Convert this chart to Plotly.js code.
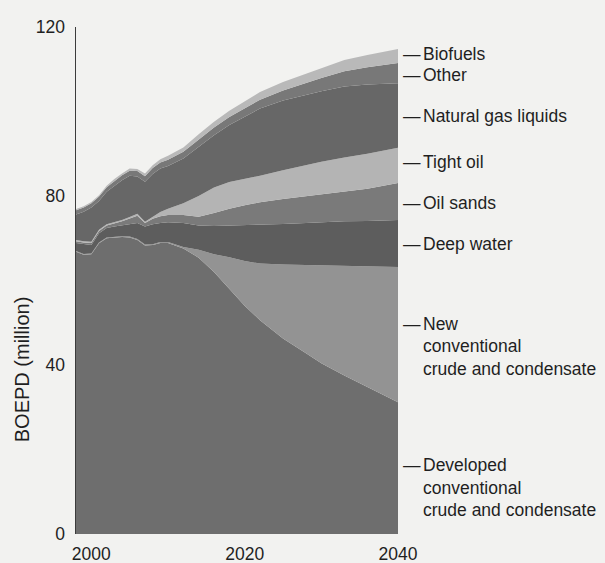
<!DOCTYPE html>
<html>
<head>
<meta charset="utf-8">
<script src="https://cdn.plot.ly/plotly-3.0.1.min.js"></script>
<style>
  html, body { margin: 0; padding: 0; background: #f2f2f0; }
  #chart { width: 605px; height: 563px; }
</style>
</head>
<body>
<div id="chart"></div>
<script>
// ---- data (million barrels of oil equivalent per day) ----
const years = [1998,1999,2000,2001,2002,2003,2004,2005,2006,2007,2008,2009,2010,2012,2014,2016,2018,2020,2022,2025,2028,2030,2033,2036,2040];

const developed = [66.8,66.1,66.2,68.8,70.0,70.2,70.3,70.2,69.6,68.3,68.4,68.9,68.9,67.6,65.4,62.0,58.1,54.0,50.6,46.3,42.8,40.4,37.5,34.8,31.2];
const newConventional = [0.2,0.2,0.2,0.2,0.2,0.2,0.2,0.2,0.2,0.2,0.2,0.2,0.2,0.3,1.9,4.2,7.4,10.6,13.4,17.5,20.9,23.2,26.0,28.6,32.0];
const deepWater = [1.9,2.3,2.0,2.2,2.2,2.4,2.6,3.0,3.8,4.3,4.7,4.5,4.7,5.7,5.7,6.7,7.5,8.4,9.1,9.6,9.9,10.2,10.5,10.7,11.1];
const oilSands = [0.4,0.4,0.5,0.5,0.6,0.7,0.9,1.3,1.7,0.8,1.3,1.6,1.7,1.9,2.1,3.1,4.0,4.8,5.4,5.9,6.4,6.6,7.0,7.6,8.8];
const tightOil = [0.3,0.3,0.3,0.3,0.3,0.3,0.3,0.3,0.5,0.3,0.4,1.0,1.5,2.8,4.9,6.0,6.3,6.2,6.3,6.8,7.4,7.7,8.1,8.3,8.3];
const ngl = [6.0,7.0,8.1,6.8,7.7,8.6,9.4,9.8,8.8,9.5,10.2,10.3,10.1,10.6,11.7,12.4,13.5,14.8,15.9,16.5,16.6,16.7,16.8,16.4,15.3];
const other = [1.0,1.0,1.0,1.1,1.1,1.2,1.2,1.2,1.3,1.3,1.4,1.4,1.5,1.6,1.7,1.8,1.9,2.0,2.1,2.4,2.8,3.1,3.6,4.1,4.8];
const biofuels = [0.3,0.3,0.3,0.3,0.3,0.4,0.4,0.5,0.5,0.6,0.7,0.8,0.9,1.0,1.2,1.4,1.5,1.7,1.8,2.0,2.2,2.4,2.7,2.9,3.3];

const xTicks = [2000, 2020, 2040];
const yTicks = [0, 40, 80, 120];
const yTitle = "BOEPD (million)";

// series in stacking order (bottom to top)
const seriesNames = ["Developed conventional crude and condensate","New conventional crude and condensate","Deep water","Oil sands","Tight oil","Natural gas liquids","Other","Biofuels"];
const seriesValues = [developed, newConventional, deepWater, oilSands, tightOil, ngl, other, biofuels];
const labelLines = [
  ["Developed","conventional","crude and condensate"],
  ["New","conventional","crude and condensate"],
  ["Deep water"],["Oil sands"],["Tight oil"],["Natural gas liquids"],["Other"],["Biofuels"]
];

// ---- styles ----
const colors = ["#6e6e6e","#939393","#5d5d5d","#7a7a7a","#b4b4b4","#676767","#787878","#b9b9b9"];
const labelShift = [3, 11, 0, -2, 3, 0, -2, 2];   // px nudges of label first line
const FONT = "Liberation Sans, Arial, Helvetica, sans-serif";
const TXT = "#1f1f1f";

const traces = seriesValues.map((vals, i) => ({
  type: "scatter", x: years, y: vals, name: seriesNames[i],
  stackgroup: "one", mode: "lines",
  line: { width: 0, color: colors[i] }, fillcolor: colors[i],
  hoverinfo: "skip", showlegend: false
}));

// label positions: middle of each band at the last year
const annotations = [];
let cum = 0;
const last = years.length - 1;
seriesValues.forEach((vals, i) => {
  const v = vals[last];
  const mid = cum + v / 2;
  cum += v;
  annotations.push({
    x: years[last], y: mid, xref: "x", yref: "y", text: "\u2014",
    xanchor: "left", yanchor: "middle", xshift: 3, yshift: labelShift[i],
    showarrow: false, font: { family: FONT, size: 17.5, color: TXT }
  });
  labelLines[i].forEach((line, k) => {
    annotations.push({
      x: years[last], y: mid, xref: "x", yref: "y", text: line,
      xanchor: "left", yanchor: "middle", xshift: 23, yshift: labelShift[i] - k * 22.5,
      showarrow: false, font: { family: FONT, size: 17.5, color: TXT }
    });
  });
});

// y-axis title, placed lower than the axis centre as in the original
annotations.push({
  xref: "paper", yref: "paper", x: 0, y: 0.325, xshift: -54,
  xanchor: "center", yanchor: "middle", textangle: -90,
  text: yTitle, showarrow: false, font: { family: FONT, size: 20, color: TXT }
});

const layout = {
  width: 605, height: 563,
  paper_bgcolor: "#f2f2f0", plot_bgcolor: "#f2f2f0",
  margin: { l: 76, r: 207, t: 27, b: 29 },
  font: { family: FONT, color: TXT, size: 17.5 },
  xaxis: {
    range: [1998, 2040], tickvals: xTicks, ticktext: xTicks.map(String),
    showgrid: false, zeroline: false, showline: false, ticks: "",
    ticklabelstandoff: 7, tickfont: { size: 17.5, color: TXT }, fixedrange: true
  },
  yaxis: {
    range: [0, 120], tickvals: yTicks, ticktext: yTicks.map(String),
    showgrid: false, zeroline: false, showline: true, linecolor: "#3c3c3c", linewidth: 1.5,
    ticks: "", ticklabelstandoff: 6, tickfont: { size: 17.5, color: TXT },
    fixedrange: true
  },
  annotations: annotations
};

Plotly.newPlot("chart", traces, layout, { displayModeBar: false, staticPlot: true });
</script>
</body>
</html>
